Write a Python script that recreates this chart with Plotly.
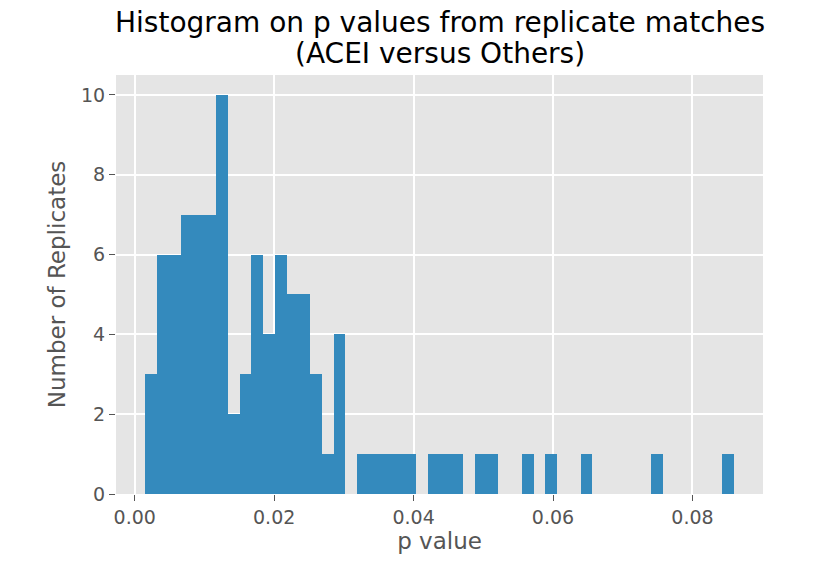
import numpy as np
import plotly.graph_objects as go

# Histogram of replicate-match p values: 50 equal-width bins
p_min = 0.00153
p_max = 0.0859
n_bins = 50
counts = [
    3, 6, 6, 7, 7, 7, 10, 2, 3, 6,
    4, 6, 5, 5, 3, 1, 4, 0, 1, 1,
    1, 1, 1, 0, 1, 1, 1, 0, 1, 1,
    0, 0, 1, 0, 1, 0, 0, 1, 0, 0,
    0, 0, 0, 1, 0, 0, 0, 0, 0, 1,
]
x_ticks = [0.00, 0.02, 0.04, 0.06, 0.08]
x_tick_labels = ["0.00", "0.02", "0.04", "0.06", "0.08"]
y_ticks = [0, 2, 4, 6, 8, 10]

edges = np.linspace(p_min, p_max, n_bins + 1)
centers = (edges[:-1] + edges[1:]) / 2
widths = np.diff(edges)

span = p_max - p_min
x_range = [p_min - 0.05 * span, p_max + 0.05 * span]

FONT = "DejaVu Sans"
GREY = "#555555"

fig = go.Figure(
    go.Bar(
        x=centers,
        y=counts,
        width=widths,
        marker=dict(color="#348ABD", line=dict(width=0)),
        hoverinfo="x+y",
    )
)

fig.update_layout(
    width=837,
    height=562,
    margin=dict(l=116, r=74, t=75, b=66),
    paper_bgcolor="white",
    plot_bgcolor="#E5E5E5",
    bargap=0,
    showlegend=False,
    font=dict(family=FONT, color=GREY),
    annotations=[
        dict(
            text="Histogram on p values from replicate matches",
            xref="paper", yref="paper", x=0.5, y=1,
            xanchor="center", yanchor="bottom", yshift=34,
            showarrow=False, font=dict(family=FONT, size=28, color="black"),
        ),
        dict(
            text="(ACEI versus Others)",
            xref="paper", yref="paper", x=0.5, y=1,
            xanchor="center", yanchor="bottom", yshift=3,
            showarrow=False, font=dict(family=FONT, size=28, color="black"),
        ),
    ],
)

fig.update_xaxes(
    range=x_range,
    tickvals=x_ticks,
    ticktext=x_tick_labels,
    showgrid=True,
    gridcolor="white",
    gridwidth=1.5,
    zeroline=False,
    showline=False,
    ticks="outside",
    ticklen=6,
    tickwidth=1.2,
    tickcolor=GREY,
    tickfont=dict(family=FONT, size=19, color=GREY),
    title=dict(text="p value", font=dict(family=FONT, size=23, color=GREY), standoff=6),
)

fig.update_yaxes(
    range=[0, 10.5],
    tickvals=y_ticks,
    showgrid=True,
    gridcolor="white",
    gridwidth=1.5,
    zeroline=False,
    showline=False,
    ticks="outside",
    ticklen=6,
    tickwidth=1.2,
    tickcolor=GREY,
    tickfont=dict(family=FONT, size=19, color=GREY),
    title=dict(text="Number of Replicates", font=dict(family=FONT, size=23, color=GREY), standoff=8),
)

fig.write_html("out.html")
